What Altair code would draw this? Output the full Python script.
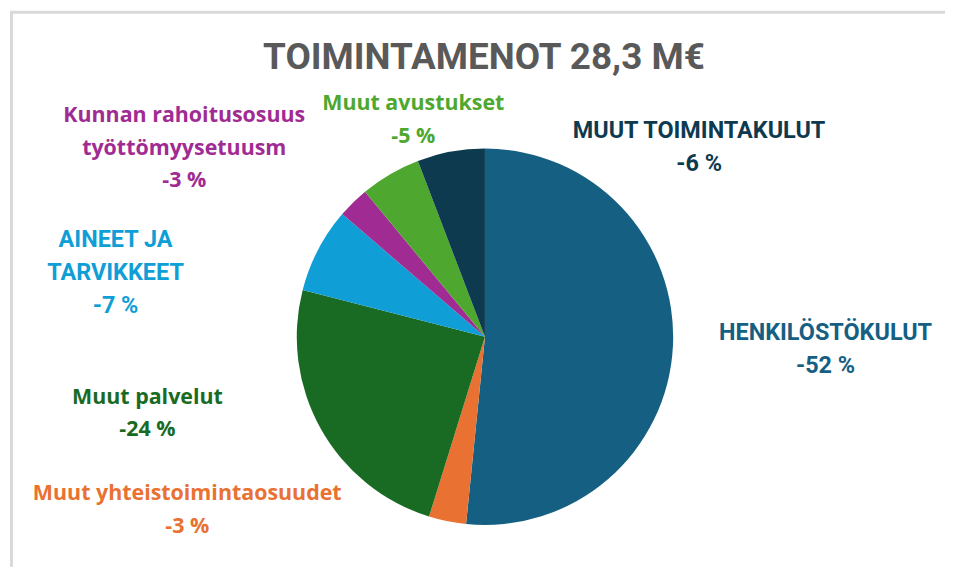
import altair as alt
import pandas as pd

# ---- data ----
categories = [
    "HENKILÖSTÖKULUT",
    "Muut yhteistoimintaosuudet",
    "Muut palvelut",
    "AINEET JA TARVIKKEET",
    "Kunnan rahoitusosuus työttömyysetuusm",
    "Muut avustukset",
    "MUUT TOIMINTAKULUT",
]
shares = [51.6, 3.2, 24.2, 7.3, 2.7, 5.2, 5.8]
colors = ["#156082", "#E97132", "#196B24", "#0F9ED5", "#A02B93", "#4EA72E", "#0E3A50"]
label_lines = [
    ["HENKILÖSTÖKULUT"],
    ["Muut yhteistoimintaosuudet"],
    ["Muut palvelut"],
    ["AINEET JA", "TARVIKKEET"],
    ["Kunnan rahoitusosuus", "työttömyysetuusm"],
    ["Muut avustukset"],
    ["MUUT TOIMINTAKULUT"],
]
caps_style = [True, False, False, True, False, False, True]
title_text = "TOIMINTAMENOT 28,3 M€"

# ---- layout (first-line centre of each label block, px in plot area) ----
label_x = [819, 178, 138, 106, 175, 405, 692]
label_y = [325, 487, 390, 232, 107, 95, 122]

pie_df = pd.DataFrame({"cat": categories, "share": shares, "order": list(range(len(categories)))})

rows = []
for i, cat in enumerate(categories):
    pct = f"-{round(shares[i])} %"
    rows.append({
        "cat": cat,
        "text": label_lines[i] + [pct],
        "lx": label_x[i],
        "ly": label_y[i],
        "caps": caps_style[i],
    })
lab_df = pd.DataFrame(rows)

W, H = 939, 560
cx, cy, R = 477, 329, 189

color_scale = alt.Scale(domain=categories, range=colors)

pie = alt.Chart(pie_df).mark_arc(radius=R, stroke=None).encode(
    theta=alt.Theta("share:Q", stack=True),
    order=alt.Order("order:Q"),
    color=alt.Color("cat:N", scale=color_scale, legend=None),
    x=alt.value(cx),
    y=alt.value(cy),
)

def label_layer(caps):
    font = "Roboto" if caps else "Open Sans"
    size = 23.5 if caps else 21.5
    return alt.Chart(lab_df[lab_df["caps"] == caps]).mark_text(
        font=font, fontSize=size, fontWeight="bold", align="center",
        baseline="middle", lineHeight=33,
    ).encode(
        x=alt.X("lx:Q", scale=None),
        y=alt.Y("ly:Q", scale=None),
        text="text",
        color=alt.Color("cat:N", scale=color_scale, legend=None),
    )

title = alt.Chart(pd.DataFrame({"t": [title_text]})).mark_text(
    font="Roboto", fontSize=37, fontWeight="bold", color="#595959",
    align="center", baseline="middle",
).encode(x=alt.value(476), y=alt.value(49), text="t:N")

top_rule = alt.Chart(pd.DataFrame({"a": [0]})).mark_rule(color="#d9d9d9", strokeWidth=3).encode(
    x=alt.value(0), x2=alt.value(W), y=alt.value(3))
left_rule = alt.Chart(pd.DataFrame({"a": [0]})).mark_rule(color="#d9d9d9", strokeWidth=3).encode(
    x=alt.value(1.5), y=alt.value(2), y2=alt.value(H))

chart = alt.layer(top_rule, left_rule, pie, label_layer(True), label_layer(False), title).properties(
    width=W, height=H, padding=0, background="white",
).configure_view(stroke=None)

chart.save("out.html", embed_options={"renderer": "svg", "actions": False})
